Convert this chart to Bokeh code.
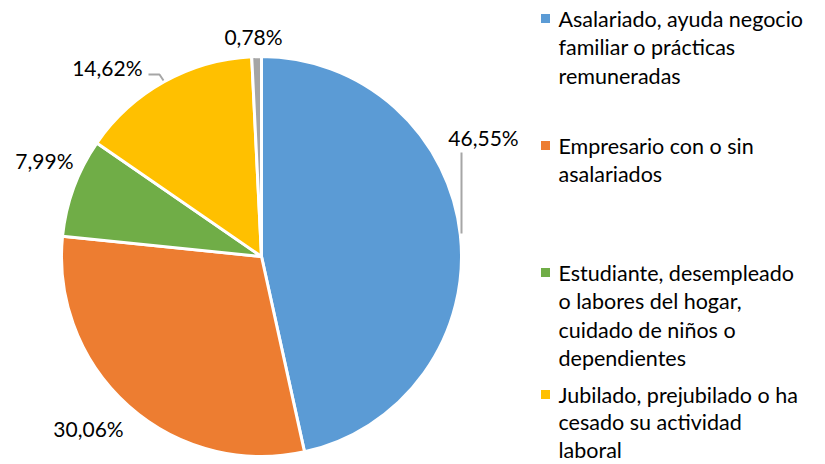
import math
from bokeh.plotting import figure
from bokeh.models import Range1d, ColumnDataSource
from bokeh.core.properties import value
from bokeh.embed import file_html
from bokeh.resources import INLINE

# ---- data ----
categories = [
    "Asalariado, ayuda negocio familiar o prácticas remuneradas",
    "Empresario con o sin asalariados",
    "Estudiante, desempleado o labores del hogar, cuidado de niños o dependientes",
    "Jubilado, prejubilado o ha cesado su actividad laboral",
    "Otros",
]
shares = [46.55, 30.06, 7.99, 14.62, 0.78]
colors = ["#5B9BD5", "#ED7D31", "#70AD47", "#FFC000", "#A5A5A5"]
legend_lines = [
    ["Asalariado, ayuda negocio", "familiar o prácticas", "remuneradas"],
    ["Empresario con o sin", "asalariados"],
    ["Estudiante, desempleado", "o labores del hogar,", "cuidado de niños o", "dependientes"],
    ["Jubilado, prejubilado o ha", "cesado su actividad", "laboral"],
]

# ---- layout (picture pixel coords; data y = H - picture y) ----
W, H = 825, 464
def Y(py):
    return H - py

FONT = "Lato"
cx, cy, r = 261, Y(256), 200

p = figure(width=W, height=H, output_backend="svg", toolbar_location=None,
           x_range=Range1d(0, W), y_range=Range1d(0, H),
           min_border=0, outline_line_color=None)
p.axis.visible = False
p.grid.visible = False
p.background_fill_color = "white"
p.border_fill_color = "white"

total = sum(shares)
starts, ends = [], []
cum = 0.0
for s in shares:
    starts.append(math.pi / 2 - 2 * math.pi * cum / total)
    cum += s
    ends.append(math.pi / 2 - 2 * math.pi * cum / total)

src = ColumnDataSource(dict(start=starts, end=ends, color=colors))
p.wedge(x=cx, y=cy, radius=r, start_angle="start", end_angle="end",
        direction="clock", fill_color="color", line_color="white",
        line_width=3, source=src)

# leader lines
p.line([461, 461], [Y(152), Y(233)], line_color="#A6A6A6", line_width=2)
p.line([148, 159, 163], [Y(74), Y(74), Y(80)], line_color="#A6A6A6", line_width=2)

# data labels
lab_x = [483, 88, 73, 142, 253]
lab_y = [Y(137), Y(428), Y(160), Y(67), Y(36)]
lab_align = ["center", "center", "right", "right", "center"]
lab_text = [("%.2f%%" % s).replace(".", ",") for s in shares]
lsrc = ColumnDataSource(dict(x=lab_x, y=lab_y, t=lab_text, a=lab_align))
p.text(x="x", y="y", text="t", text_align="a", text_baseline="middle",
       text_font=value(FONT), text_font_size="21px", text_color="#000000",
       source=lsrc)

# legend
entry_top = [18, 145, 272, 394]
line_h = [28.5, 28.5, 28.5, 27.5]
sq_x, txt_x = 545, 558
for i, lines in enumerate(legend_lines):
    p.rect(x=sq_x, y=Y(entry_top[i]), width=9, height=9,
           width_units="screen", height_units="screen",
           fill_color=colors[i], line_color=None)
    ys = [Y(entry_top[i] + j * line_h[i]) for j in range(len(lines))]
    p.text(x=[txt_x] * len(lines), y=ys, text=lines, text_align="left",
           text_baseline="middle", text_font=value(FONT),
           text_font_size="21.5px", text_color="#000000")

open("out.html", "w").write(file_html(p, INLINE))
